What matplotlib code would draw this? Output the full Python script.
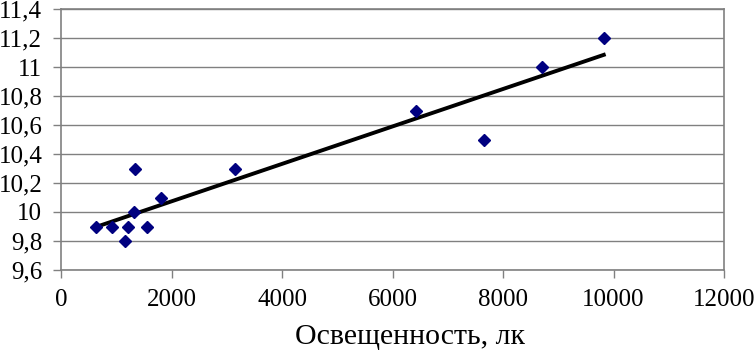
import numpy as np
import matplotlib
matplotlib.use("Agg")
import matplotlib.pyplot as plt
from matplotlib.ticker import FuncFormatter

# illuminance (lx) vs measured value
lux = [634, 924, 1160, 1214, 1323, 1341, 1559, 1813, 3154, 6417, 7650, 8700, 9824]
vals = [9.9, 9.9, 9.8, 9.9, 10.0, 10.3, 9.9, 10.1, 10.3, 10.7, 10.5, 11.0, 11.2]

x_ticks = [0, 2000, 4000, 6000, 8000, 10000, 12000]
y_ticks = [9.6, 9.8, 10.0, 10.2, 10.4, 10.6, 10.8, 11.0, 11.2, 11.4]

plt.rcParams['font.family'] = ['Liberation Serif', 'DejaVu Serif']

fig = plt.figure(figsize=(7.55, 3.52), dpi=100)
ax = fig.add_axes([61 / 755, 1 - 270 / 352, 663 / 755, 261 / 352])

# linear trend line (like excel)
k, b = np.polyfit(lux, vals, 1)
xt = np.array([min(lux), max(lux)])
ax.plot(xt, k * xt + b, color='black', lw=2.8, zorder=2)

ax.plot(lux, vals, 'D', color='#000080', ms=6.5, zorder=3)

ax.set_xlim(0, 12000)
ax.set_ylim(9.6, 11.4)
ax.set_xticks(x_ticks)
ax.set_yticks(y_ticks)

def comma(v, pos):
    s = ('%.1f' % v).replace('.', ',')
    if s.endswith(',0'):
        s = s[:-2]
    return s

ax.yaxis.set_major_formatter(FuncFormatter(comma))
ax.grid(axis='y', color='#808080', lw=1)
ax.set_axisbelow(True)
for sp in ax.spines.values():
    sp.set_color('#808080')
    sp.set_linewidth(1.2)
ax.tick_params(axis='both', colors='#808080', labelcolor='black', labelsize=18, length=6, width=1)
ax.tick_params(axis='y', pad=7.5)
ax.tick_params(axis='x', pad=8)
ax.set_xlabel('Освещенность, лк', fontsize=21.5)
ax.xaxis.set_label_coords((410 - 61) / 663, -0.205)

fig.savefig('out.png', dpi=100)
